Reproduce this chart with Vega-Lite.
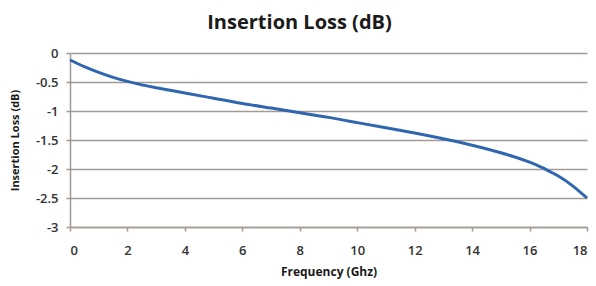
{
  "$schema": "https://vega.github.io/schema/vega-lite/v6.json",
  "width": 517,
  "height": 174,
  "autosize": {"type": "none"},
  "padding": {"left": 70, "top": 53, "right": 9, "bottom": 59},
  "background": "white",
  "title": {
    "text": "Insertion Loss (dB)",
    "font": "Open Sans",
    "fontSize": 20,
    "fontWeight": "bold",
    "color": "#1a1a1a",
    "anchor": "middle",
    "frame": "group",
    "dx": -29,
    "dy": 26,
    "offset": 24,
    "baseline": "alphabetic"
  },
  "data": {
    "values": [
      {"freq": 0, "loss": -0.12},
      {"freq": 0.5, "loss": -0.235},
      {"freq": 1, "loss": -0.335},
      {"freq": 1.5, "loss": -0.42},
      {"freq": 2, "loss": -0.49},
      {"freq": 2.5, "loss": -0.55},
      {"freq": 3, "loss": -0.6},
      {"freq": 4, "loss": -0.69},
      {"freq": 5, "loss": -0.78},
      {"freq": 6, "loss": -0.87},
      {"freq": 7, "loss": -0.95},
      {"freq": 8, "loss": -1.03},
      {"freq": 9, "loss": -1.11},
      {"freq": 10, "loss": -1.2},
      {"freq": 11, "loss": -1.29},
      {"freq": 12, "loss": -1.38},
      {"freq": 13, "loss": -1.48},
      {"freq": 14, "loss": -1.59},
      {"freq": 15, "loss": -1.72},
      {"freq": 16, "loss": -1.88},
      {"freq": 16.5, "loss": -1.99},
      {"freq": 17, "loss": -2.12},
      {"freq": 17.5, "loss": -2.29},
      {"freq": 18, "loss": -2.5}
    ]
  },
  "mark": {"type": "line", "color": "#3066b0", "strokeWidth": 3, "interpolate": "natural"},
  "encoding": {
    "x": {
      "field": "freq",
      "type": "quantitative",
      "scale": {"domain": [0, 18], "nice": false, "zero": false},
      "axis": {
        "title": "Frequency (Ghz)",
        "values": [0, 2, 4, 6, 8, 10, 12, 14, 16, 18],
        "grid": false,
        "labelPadding": 13,
        "titlePadding": 9
      }
    },
    "y": {
      "field": "loss",
      "type": "quantitative",
      "scale": {"domain": [-3, 0], "nice": false},
      "axis": {
        "title": "Insertion Loss (dB)",
        "values": [-3, -2.5, -2, -1.5, -1, -0.5, 0],
        "format": "~g",
        "labelExpr": "replace(datum.label, '\u2212', '-')",
        "grid": true,
        "labelPadding": 8,
        "titleFontSize": 11,
        "titleX": -55,
        "titleY": 87,
        "titleAngle": -90,
        "titleAlign": "center",
        "titleBaseline": "middle"
      }
    }
  },
  "config": {
    "view": {"stroke": null},
    "axis": {
      "labelFont": "Open Sans",
      "labelFontSize": 13,
      "labelFontWeight": 600,
      "labelColor": "#333333",
      "titleFont": "Open Sans",
      "titleFontSize": 12,
      "titleFontWeight": "bold",
      "titleColor": "#1a1a1a",
      "domainColor": "#a39a93",
      "domainWidth": 1.5,
      "tickColor": "#a39a93",
      "tickWidth": 1.5,
      "tickSize": 4,
      "gridColor": "#a39a93",
      "gridWidth": 1.5,
      "gridOpacity": 1
    }
  }
}
